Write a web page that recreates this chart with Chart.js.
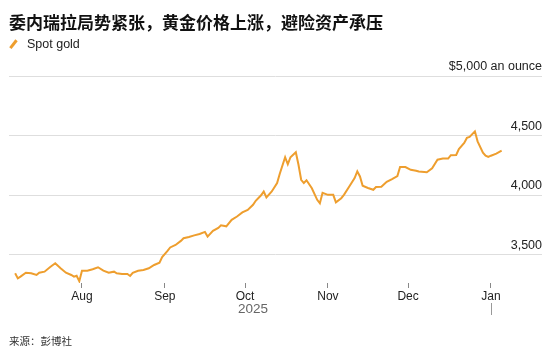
<!DOCTYPE html>
<html>
<head>
<meta charset="utf-8">
<script src="https://cdn.jsdelivr.net/npm/chart.js@4.4.1/dist/chart.umd.min.js"></script>
<style>
  html, body { margin: 0; padding: 0; background: #fff; }
  body { width: 554px; height: 356px; position: relative; overflow: hidden;
         font-family: "Liberation Sans", Arial, sans-serif; }
  #chart { position: absolute; left: 0; top: 0; }
  .title { position: absolute; left: 9px; top: 11px; white-space: nowrap;
           font: bold 17px/21px "Noto Sans CJK SC", sans-serif; color: #111; }
  .legend { position: absolute; left: 9px; top: 36px; height: 17px;
            font-size: 12.5px; line-height: 17px; color: #222; white-space: nowrap; }
  .legend i { position: absolute; left: 3px; top: 3px; width: 2.5px; height: 10px;
              background: #ee9e2e; transform: rotate(38deg); }
  .legend span { position: absolute; left: 18px; top: 0; }
  .source { position: absolute; left: 9px; top: 333px;
            font: 10.5px/15px "Noto Sans CJK SC", sans-serif; color: #333; white-space: nowrap; }
</style>
</head>
<body>
<canvas id="chart" width="554" height="356"></canvas>
<div class="title">委内瑞拉局势紧张，黄金价格上涨，避险资产承压</div>
<div class="legend"><i></i><span>Spot gold</span></div>
<div class="source">来源：彭博社</div>
<script>
// Valores (oro al contado, USD por onza)
const dates = [
  "2025-07-07", "2025-07-08", "2025-07-09", "2025-07-11", "2025-07-13", "2025-07-15",
  "2025-07-16", "2025-07-18", "2025-07-20", "2025-07-22", "2025-07-24", "2025-07-26",
  "2025-07-28", "2025-07-29", "2025-07-30", "2025-07-31", "2025-08-01", "2025-08-03",
  "2025-08-05", "2025-08-07", "2025-08-09", "2025-08-11", "2025-08-13", "2025-08-14",
  "2025-08-16", "2025-08-18", "2025-08-19", "2025-08-20", "2025-08-22", "2025-08-24",
  "2025-08-26", "2025-08-28", "2025-08-30", "2025-08-31", "2025-09-02", "2025-09-03",
  "2025-09-05", "2025-09-07", "2025-09-08", "2025-09-10", "2025-09-12", "2025-09-14",
  "2025-09-16", "2025-09-17", "2025-09-19", "2025-09-21", "2025-09-22", "2025-09-24",
  "2025-09-26", "2025-09-28", "2025-09-30", "2025-10-02", "2025-10-04", "2025-10-05",
  "2025-10-07", "2025-10-08", "2025-10-09", "2025-10-11", "2025-10-13", "2025-10-14",
  "2025-10-16", "2025-10-17", "2025-10-18", "2025-10-20", "2025-10-21", "2025-10-22",
  "2025-10-23", "2025-10-24", "2025-10-26", "2025-10-28", "2025-10-29", "2025-10-30",
  "2025-11-01", "2025-11-03", "2025-11-04", "2025-11-06", "2025-11-07", "2025-11-09",
  "2025-11-11", "2025-11-12", "2025-11-13", "2025-11-14", "2025-11-16", "2025-11-18",
  "2025-11-19", "2025-11-21", "2025-11-23", "2025-11-25", "2025-11-27", "2025-11-28",
  "2025-11-30", "2025-12-02", "2025-12-04", "2025-12-05", "2025-12-08", "2025-12-10",
  "2025-12-12", "2025-12-14", "2025-12-16", "2025-12-17", "2025-12-19", "2025-12-20",
  "2025-12-22", "2025-12-23", "2025-12-24", "2025-12-26", "2025-12-27", "2025-12-29",
  "2025-12-30", "2025-12-31", "2026-01-01", "2026-01-03", "2026-01-05"
];
const spotGold = [
  3346, 3304, 3318, 3351, 3346, 3332,
  3351, 3360, 3397, 3430, 3388, 3351,
  3332, 3318, 3326, 3280, 3368, 3368,
  3380, 3397, 3368, 3351, 3360, 3346,
  3340, 3340, 3324, 3351, 3368, 3374,
  3388, 3416, 3435, 3483, 3534, 3563,
  3584, 3618, 3640, 3651, 3664, 3676,
  3693, 3654, 3702, 3727, 3748, 3740,
  3794, 3822, 3857, 3878, 3920, 3954,
  4000, 4032, 3983, 4032, 4103, 4181,
  4319, 4260, 4319, 4361, 4256, 4130,
  4103, 4126, 4059, 3962, 3933, 4021,
  4004, 4004, 3941, 3976, 4004, 4074,
  4145, 4200, 4158, 4080, 4061, 4046,
  4069, 4071, 4113, 4136, 4161, 4237,
  4237, 4214, 4206, 4200, 4193, 4227,
  4298, 4308, 4308, 4336, 4338, 4388,
  4439, 4481, 4489, 4536, 4452, 4357,
  4332, 4321, 4332, 4349, 4374
];
const monthTicks = ["2025-08-01", "2025-09-01", "2025-10-01", "2025-11-01", "2025-12-01", "2026-01-01"];
const monthLabels = ["Aug", "Sep", "Oct", "Nov", "Dec", "Jan"];
const priceTicks = [3500, 4000, 4500, 5000];
const priceLabels = ["3,500", "4,000", "4,500", "$5,000 an ounce"];
const yearLabel = "2025";

const lineColor = "#ee9e2e";
const gridColor = "#dedede";

// dias desde el 1 de agosto, para usar una escala lineal sin adaptador de fechas
const dayOf = (iso) => {
  const [y, m, d] = iso.split("-").map(Number);
  return (Date.UTC(y, m - 1, d) - Date.UTC(2025, 7, 1)) / 86400000;
};

const points = dates.map((d, i) => ({ x: dayOf(d), y: spotGold[i] }));

// "2025" centrado bajo el tramo del año y separador vertical en enero
const yearPlugin = {
  id: "yearRow",
  afterDraw(chart) {
    const xs = chart.scales.x;
    const ctx = chart.ctx;
    const jan = xs.getPixelForValue(dayOf("2026-01-01"));
    const start = xs.getPixelForValue(dayOf(dates[0]));
    ctx.save();
    ctx.fillStyle = "#666";
    ctx.font = '13.5px "Liberation Sans", Arial, sans-serif';
    ctx.textAlign = "center";
    ctx.textBaseline = "middle";
    ctx.fillText(yearLabel, (start + jan) / 2, 309.5);
    ctx.strokeStyle = "#999";
    ctx.lineWidth = 1;
    ctx.beginPath();
    ctx.moveTo(Math.round(jan) + 0.5, 303);
    ctx.lineTo(Math.round(jan) + 0.5, 315);
    ctx.stroke();
    ctx.restore();
  }
};

new Chart(document.getElementById("chart"), {
  type: "line",
  data: {
    datasets: [{
      label: "Spot gold",
      data: points,
      borderColor: lineColor,
      borderWidth: 2,
      pointRadius: 0,
      tension: 0,
      fill: false
    }]
  },
  options: {
    responsive: false,
    animation: false,
    layout: { padding: { top: 76, left: 9, right: 12, bottom: 0 } },
    plugins: { legend: { display: false }, tooltip: { enabled: false } },
    scales: {
      x: {
        type: "linear",
        min: -27.3,
        max: 172.1,
        afterBuildTicks: (s) => { s.ticks = monthTicks.map((d) => ({ value: dayOf(d) })); },
        afterFit: (s) => { s.height = 73; },
        grid: { drawOnChartArea: false, drawTicks: true, tickLength: 5, tickColor: "#888", tickWidth: 1 },
        border: { display: false },
        ticks: {
          autoSkip: false,
          maxRotation: 0,
          padding: 1,
          color: "#222",
          font: { family: '"Liberation Sans", Arial, sans-serif', size: 12 },
          callback: (v, i) => monthLabels[i]
        }
      },
      y: {
        position: "right",
        min: 3265,
        max: 5000,
        afterBuildTicks: (s) => { s.ticks = priceTicks.map((v) => ({ value: v })); },
        afterFit: (s) => { s.width = 0; },
        grid: { color: gridColor, lineWidth: 1, drawTicks: false },
        border: { display: false },
        ticks: {
          mirror: true,
          padding: 0,
          labelOffset: -9.5,
          color: "#222",
          font: { family: '"Liberation Sans", Arial, sans-serif', size: 12.5 },
          callback: (v, i) => priceLabels[i]
        }
      }
    }
  },
  plugins: [yearPlugin]
});
</script>
</body>
</html>
